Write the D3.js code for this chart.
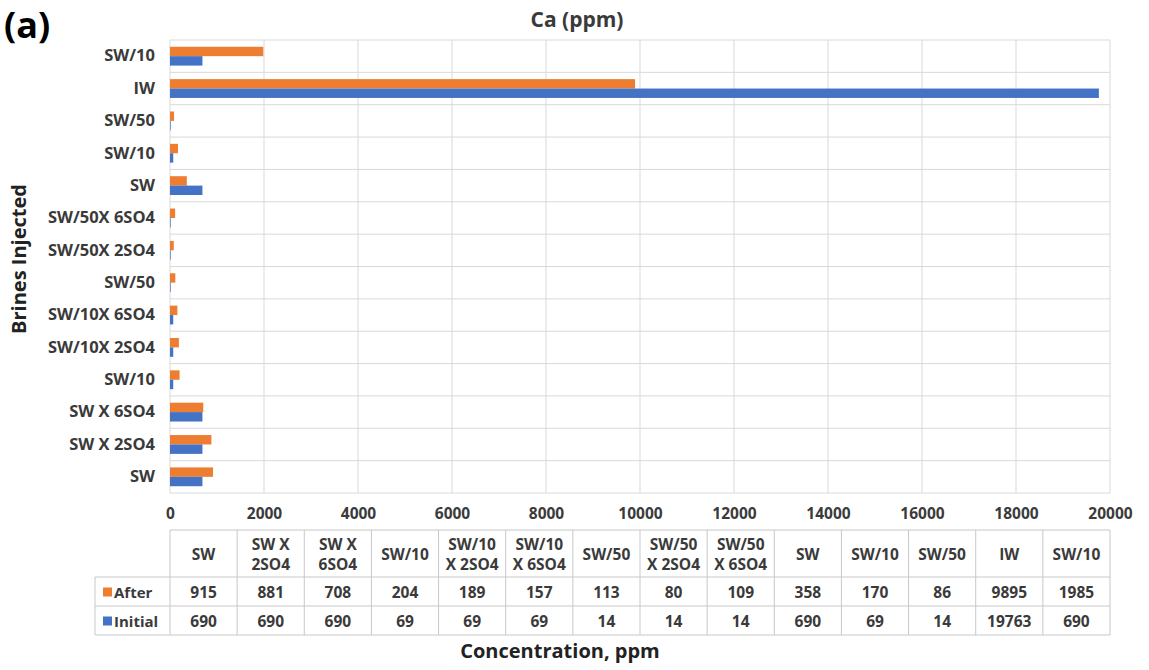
<!DOCTYPE html>
<html><head><meta charset="utf-8">
<script src="https://cdn.jsdelivr.net/npm/d3@7"></script>
<style>
body{margin:0;background:#fff;}
text{font-family:"Open Sans","Noto Sans",sans-serif;}
</style></head>
<body><svg id="c" width="1149" height="670"></svg>
<script>
// categories bottom -> top (same order as data table columns)
const categories = ["SW","SW X 2SO4","SW X 6SO4","SW/10","SW/10X 2SO4","SW/10X 6SO4","SW/50","SW/50X 2SO4","SW/50X 6SO4","SW","SW/10","SW/50","IW","SW/10"];
const tableHeaders = [["SW"],["SW X","2SO4"],["SW X","6SO4"],["SW/10"],["SW/10","X 2SO4"],["SW/10","X 6SO4"],["SW/50"],["SW/50","X 2SO4"],["SW/50","X 6SO4"],["SW"],["SW/10"],["SW/50"],["IW"],["SW/10"]];
const afterValues = [915,881,708,204,189,157,113,80,109,358,170,86,9895,1985];
const initialValues = [690,690,690,69,69,69,14,14,14,690,69,14,19763,690];
const xTicks = [0,2000,4000,6000,8000,10000,12000,14000,16000,18000,20000];
const seriesNames = ["After","Initial"];
const colors = {After:"#ED7D31", Initial:"#4472C4"};

const svg = d3.select("#c");
const L = 170, R = 1110, T = 40, B = 493;
const x = d3.scaleLinear().domain([0,20000]).range([L,R]);
const idx = d3.range(categories.length);
const y = d3.scaleBand().domain(idx).range([B,T]).paddingInner(0).paddingOuter(0);
const grid = "#d9d9d9";
const textCol = "#3a3a3a";

// vertical gridlines
svg.append("g").selectAll("line").data(xTicks).join("line")
  .attr("x1",d=>x(d)).attr("x2",d=>x(d)).attr("y1",T).attr("y2",B)
  .attr("stroke",grid).attr("stroke-width",1);
// horizontal category boundaries
svg.append("g").selectAll("line").data(d3.range(categories.length+1)).join("line")
  .attr("x1",L).attr("x2",R)
  .attr("y1",d=>B - d*y.bandwidth()).attr("y2",d=>B - d*y.bandwidth())
  .attr("stroke",grid).attr("stroke-width",1);

// bars
const inner = d3.scaleBand().domain(seriesNames).range([0,y.bandwidth()]).paddingInner(0).paddingOuter(0.72);
const rows = idx.map(i=>({i, After:afterValues[i], Initial:initialValues[i]}));
const g = svg.append("g");
seriesNames.forEach(s=>{
  g.selectAll("rect."+s).data(rows).join("rect").attr("class",s)
    .attr("x",x(0)).attr("y",d=>y(d.i)+inner(s))
    .attr("width",d=>x(d[s])-x(0)).attr("height",inner.bandwidth())
    .attr("fill",colors[s]);
});

// y axis labels
const yAxis = d3.axisLeft(y).tickSize(0).tickPadding(15).tickFormat(i=>categories[i]);
const ya = svg.append("g").attr("transform",`translate(${L},0)`).call(yAxis);
ya.select(".domain").remove();
ya.selectAll("text").attr("font-size","16.5px").attr("font-weight","bold").attr("fill",textCol)
  .attr("font-family","'Open Sans',sans-serif");

// x axis tick labels
const xAxis = d3.axisBottom(x).tickValues(xTicks).tickSize(0).tickPadding(15).tickFormat(d3.format("d"));
const xa = svg.append("g").attr("transform",`translate(0,${B})`).call(xAxis);
xa.select(".domain").remove();
xa.selectAll("text").attr("font-size","15.5px").attr("font-weight","bold").attr("fill",textCol)
  .attr("font-family","'Open Sans',sans-serif");

// data table
const colW = (R-L)/categories.length;
const hT = 530, hB = 577, r1 = 606, r2 = 635, legL = 95;
const tb = svg.append("g");
const tcol = "#c8c8c8";
[hT,hB,r1,r2].forEach((yy,k)=>{
  tb.append("line").attr("x1",k===0?L:legL).attr("x2",R).attr("y1",yy).attr("y2",yy).attr("stroke",tcol);
});
d3.range(categories.length+1).forEach(k=>{
  tb.append("line").attr("x1",L+k*colW).attr("x2",L+k*colW).attr("y1",hT).attr("y2",r2).attr("stroke",tcol);
});
tb.append("line").attr("x1",legL).attr("x2",legL).attr("y1",hB).attr("y2",r2).attr("stroke",tcol);

tableHeaders.forEach((h,k)=>{
  const cx = L+(k+0.5)*colW;
  const t = tb.append("text").attr("x",cx).attr("text-anchor","middle")
    .attr("font-size","15.5px").attr("font-weight","bold").attr("fill",textCol);
  if(h.length===1){
    t.attr("y",(hT+hB)/2+6).text(h[0]);
  } else {
    t.append("tspan").attr("x",cx).attr("y",(hT+hB)/2-4).text(h[0]);
    t.append("tspan").attr("x",cx).attr("y",(hT+hB)/2+16).text(h[1]);
  }
});
[[afterValues,(hB+r1)/2+6],[initialValues,(r1+r2)/2+6]].forEach(([vals,yy])=>{
  tb.selectAll(null).data(vals).join("text")
    .attr("x",(d,k)=>L+(k+0.5)*colW).attr("y",yy).attr("text-anchor","middle")
    .attr("font-size","15.5px").attr("font-weight","bold").attr("fill",textCol).text(d=>d);
});
seriesNames.forEach((s,k)=>{
  const yy = k===0 ? (hB+r1)/2 : (r1+r2)/2;
  tb.append("rect").attr("x",103).attr("y",yy-4).attr("width",9).attr("height",9).attr("fill",colors[s]);
  tb.append("text").attr("x",114).attr("y",yy+6).attr("font-size","15px").attr("font-weight","bold")
    .attr("fill",textCol).text(s);
});

// titles
svg.append("text").attr("x",577).attr("y",27).attr("text-anchor","middle")
  .attr("font-size","21px").attr("font-weight","bold").attr("fill",textCol).text("Ca (ppm)");
svg.append("text").attr("x",560).attr("y",658).attr("text-anchor","middle")
  .attr("font-size","20px").attr("font-weight","bold").attr("fill","#222").text("Concentration, ppm");
svg.append("text").attr("transform","translate(26,259) rotate(-90)").attr("text-anchor","middle")
  .attr("font-size","20px").attr("font-weight","bold").attr("fill","#222").text("Brines Injected");
svg.append("text").attr("x",4).attr("y",38)
  .attr("font-family","'Liberation Serif','DejaVu Serif',serif")
  .attr("font-size","36px").attr("font-weight","bold").attr("fill","#000").text("(a)");
</script></body></html>
